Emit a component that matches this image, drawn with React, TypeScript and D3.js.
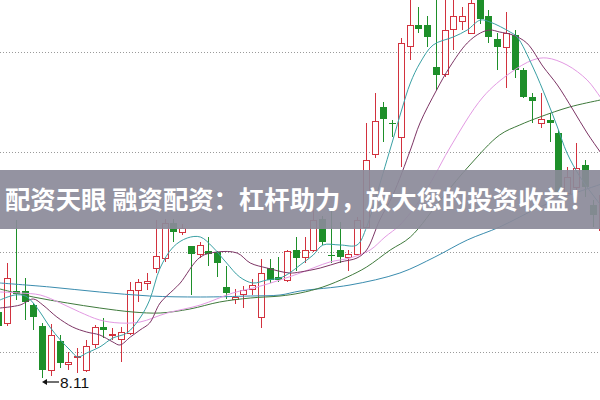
import React from "react";
import * as d3 from "d3";

// candle index (x), open, high, low, close
const idx = [-1,0,1,2,3,4,5,6,7,8,9,10,11,12,13,14,15,16,17,18,19,20,21,22,23,24,25,26,27,28,29,30,31,32,33,34,35,36,37,38,39,40,41,42,43,44,45,46,47,48,49,50,51,52,53,54,55,56,57,58,59,60,61,62,63,64,65,66,67,68];
const opens = [8.77,8.66,8.98,8.98,8.84,8.63,8.19,8.48,8.25,8.32,8.19,8.45,8.62,8.54,8.50,8.56,8.99,9.06,9.21,9.31,9.66,9.57,9.43,9.35,9.38,9.37,9.02,8.90,8.95,9.00,8.72,9.21,9.12,9.09,9.39,9.32,9.39,9.70,9.34,9.39,9.32,9.35,9.62,10.35,10.82,10.66,10.52,11.43,11.64,11.64,11.22,11.15,11.60,11.68,11.56,11.92,11.73,11.50,11.42,11.54,11.19,10.92,10.66,10.69,10.56,9.96,10.02,10.24,9.84,9.59];
const highs = [8.84,9.26,9.69,9.11,8.86,8.66,8.65,8.54,8.37,8.41,8.49,8.64,8.71,8.61,8.62,9.07,9.10,9.16,9.69,9.70,9.70,9.65,9.43,9.47,9.52,9.38,9.23,9.00,9.03,9.10,9.30,9.30,9.32,9.39,9.52,9.52,9.79,9.73,9.78,9.67,9.39,9.72,10.66,10.96,10.87,10.69,11.51,11.95,11.82,11.73,11.95,11.95,11.95,11.82,11.95,11.95,11.79,11.56,11.77,11.59,11.21,10.96,10.96,10.76,10.59,10.22,10.46,10.29,9.89,10.00];
const lows = [8.59,8.63,8.89,8.69,8.59,8.11,8.13,8.21,8.19,8.16,8.17,8.41,8.51,8.49,8.27,8.54,8.87,8.99,9.16,9.27,9.47,9.54,8.94,9.31,9.23,9.12,8.90,8.85,8.81,8.94,8.61,9.06,9.07,9.07,9.18,9.26,9.37,9.44,9.26,9.26,9.18,9.35,9.61,10.31,10.47,10.52,10.22,11.29,11.56,11.42,10.99,11.12,11.39,11.59,11.56,11.65,11.46,11.19,11.01,11.11,10.91,10.66,10.61,10.47,9.92,9.93,9.95,9.92,9.62,9.55];
const closes = [8.63,9.11,8.95,8.87,8.72,8.19,8.54,8.26,8.27,8.33,8.43,8.62,8.59,8.55,8.57,8.99,9.07,9.08,9.33,9.66,9.57,9.61,9.35,9.44,9.35,9.26,8.96,8.92,8.99,9.04,9.16,9.09,9.09,9.38,9.31,9.39,9.69,9.47,9.33,9.32,9.35,9.69,10.29,10.68,10.70,10.65,11.46,11.64,11.60,11.52,11.14,11.59,11.73,11.73,11.86,11.70,11.52,11.42,11.56,11.19,10.92,10.88,10.70,10.66,9.96,10.12,10.21,10.02,9.74,9.94];

// moving averages: [candle index, price]
const ma5: [number, number][] = [[-0.8,8.89],[0.9,8.94],[2.1,8.93],[3,8.86],[4,8.74],[4.9,8.62],[6.1,8.49],[7.2,8.39],[8.1,8.32],[9.1,8.36],[10.6,8.42],[12.1,8.51],[13.7,8.56],[15.2,8.71],[16.3,8.89],[17.5,9.21],[19,9.42],[20.6,9.51],[22.1,9.52],[23.5,9.42],[25.1,9.26],[26.6,9.12],[28.1,9.06],[29.7,9.09],[31.2,9.11],[32.3,9.16],[33.5,9.24],[35,9.34],[36.1,9.44],[38.1,9.44],[40,9.44],[41.1,9.62],[42.3,9.96],[44.1,10.49],[45.1,10.79],[46.1,11.06],[47.2,11.26],[48.7,11.44],[51,11.52],[52.6,11.59],[54.1,11.69],[55.2,11.67],[57.5,11.57],[58.3,11.52],[60.1,11.22],[61.7,10.89],[62.9,10.62],[64,10.36],[65.5,10.12],[67.4,9.89],[68.3,9.79]];
const ma10: [number, number][] = [[-0.8,8.81],[1.5,8.84],[3,8.9],[4.1,8.84],[5.7,8.72],[7.5,8.62],[9.1,8.57],[10.6,8.54],[12.1,8.47],[12.9,8.44],[14.1,8.52],[15.2,8.59],[16.3,8.66],[17.5,8.86],[19,8.99],[19.8,9.06],[22.1,9.32],[24,9.37],[26.3,9.36],[27.8,9.26],[29.7,9.21],[32.3,9.16],[33.5,9.17],[35.8,9.21],[38.1,9.27],[40,9.31],[41.1,9.39],[42.6,9.69],[44.1,9.94],[46.1,10.39],[47.2,10.66],[49.1,10.99],[50.6,11.22],[52.6,11.46],[54.1,11.56],[55.2,11.59],[56.3,11.57],[57.8,11.54],[59.4,11.46],[61.3,11.22],[62.9,11.04],[64.7,10.79],[66.3,10.56],[67.8,10.37],[68.3,10.31]];
const ma20: [number, number][] = [[-0.8,8.97],[1.5,8.96],[3.8,8.94],[6.1,8.86],[8.3,8.77],[10.6,8.69],[12.9,8.66],[15.2,8.67],[18.3,8.76],[22.1,8.84],[25.8,8.96],[28.6,9.02],[31.2,9.09],[33.5,9.16],[36.9,9.27],[39.2,9.31],[41.5,9.39],[43.2,9.52],[44.9,9.64],[47.2,9.89],[48.9,10.14],[50.6,10.41],[54.4,10.92],[57.5,11.16],[60.1,11.29],[61.7,11.31],[64,11.24],[66.3,11.09],[67.8,10.92],[68.3,10.86]];
const ma30: [number, number][] = [[-0.8,9.0],[3,8.92],[6.9,8.86],[10.6,8.81],[14.4,8.77],[17.5,8.76],[20.9,8.8],[24.3,8.87],[27.8,8.91],[31.2,8.93],[33.5,8.96],[36.1,9.02],[38.9,9.12],[41.1,9.22],[43.8,9.39],[46.1,9.52],[49.8,9.92],[52.9,10.24],[56.3,10.54],[58.6,10.64],[60.9,10.72],[64.3,10.82],[67.8,10.89],[68.3,10.9]];
const ma60: [number, number][] = [[-0.8,9.06],[4.9,9.02],[10.6,8.97],[16.3,8.93],[22.1,8.92],[27.8,8.93],[31.2,8.94],[33.5,8.98],[39.2,9.04],[44.9,9.16],[48.9,9.32],[52.6,9.49],[56.3,9.62],[60.9,9.82],[64.3,9.94],[68.3,10.06]];

const gridValues = [8.37, 9.37, 10.37, 11.37];
const lowLabel = "8.11";
const lowIndex = 4;
const bannerText = "配资天眼 融资配资：杠杆助力，放大您的投资收益！";

const W = 600;
const H = 400;
const RED = "#d2323e";
const GREEN = "#1e8f2a";

export default function App() {
  const x = d3.scaleLinear().domain([0, 67]).range([7, 593.25]);
  const y = d3.scaleLinear().domain([7.89, 11.89]).range([H, 0]);
  const line = d3
    .line<[number, number]>()
    .x((d) => x(d[0]))
    .y((d) => y(d[1]))
    .curve(d3.curveCatmullRom.alpha(0.5));

  const mas = [
    { data: ma60, color: "#3a8cae" },
    { data: ma30, color: "#3f7a3c" },
    { data: ma20, color: "#e39ae3" },
    { data: ma10, color: "#7d3565" },
    { data: ma5, color: "#3aa0a4" },
  ];

  const lowY = y(lows[idx.indexOf(lowIndex)]) + 4;
  const lowX = x(lowIndex);

  return (
    <svg
      width={W}
      height={H}
      style={{ position: "absolute", left: 0, top: 0, background: "#fff" }}
    >
      <rect x={0} y={0} width={W} height={H} fill="#fff" />
      {gridValues.map((g) => (
        <line
          key={g}
          x1={0}
          x2={W}
          y1={Math.round(y(g)) + 0.5}
          y2={Math.round(y(g)) + 0.5}
          stroke="#9a9a9a"
          strokeDasharray="1,2"
        />
      ))}
      {idx.map((i, k) => {
        const c = Math.round(x(i));
        const o = opens[k];
        const cl = closes[k];
        const up = cl >= o;
        const top = y(Math.max(o, cl));
        const bot = y(Math.min(o, cl));
        const color = up ? RED : GREEN;
        const bh = Math.max(1, bot - top);
        return (
          <g key={i}>
            <line
              x1={c + 0.5}
              x2={c + 0.5}
              y1={y(highs[k])}
              y2={y(lows[k])}
              stroke={color}
              strokeWidth={1}
            />
            {up ? (
              <rect
                x={c - 2.5}
                y={Math.round(top) + 0.5}
                width={6}
                height={Math.max(1, Math.round(bh))}
                fill="#fff"
                stroke={color}
                strokeWidth={1}
              />
            ) : (
              <rect
                x={c - 3}
                y={Math.round(top)}
                width={7}
                height={Math.max(1, Math.round(bh))}
                fill={color}
              />
            )}
          </g>
        );
      })}
      {mas.map((m, k) => (
        <path
          key={k}
          d={line(m.data) || ""}
          fill="none"
          stroke={m.color}
          strokeWidth={1}
        />
      ))}
      <g>
        <line x1={lowX + 3} x2={lowX + 17} y1={lowY} y2={lowY} stroke="#111" strokeWidth={1.2} />
        <path d={`M${lowX},${lowY} L${lowX + 5},${lowY - 3} L${lowX + 5},${lowY + 3} Z`} fill="#111" />
        <text
          x={lowX + 18}
          y={lowY + 6}
          fontFamily="Liberation Sans, Arial, sans-serif"
          fontSize={15.5}
          fill="#111"
        >
          {lowLabel}
        </text>
      </g>
      <rect x={0} y={170} width={W} height={59} fill="#8b8a99" opacity={0.92} />
      <text
        x={5}
        y={209}
        fontFamily="Noto Sans CJK SC"
        fontWeight="bold"
        fontSize={25}
        fill="#fff"
        textLength={589}
        lengthAdjust="spacingAndGlyphs"
      >
        {bannerText}
      </text>
    </svg>
  );
}
